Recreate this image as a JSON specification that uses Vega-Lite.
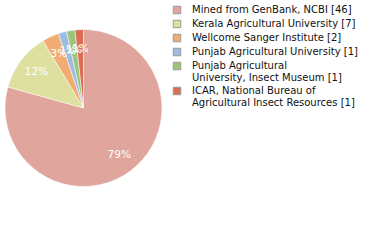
{
  "$schema": "https://vega.github.io/schema/vega-lite/v6.json",
  "width": 167,
  "height": 216,
  "padding": 0,
  "background": "white",
  "config": {"view": {"stroke": null}, "font": "DejaVu Sans"},
  "data": {
    "values": [
      {"name": "Mined from GenBank, NCBI [46]", "count": 46, "pct": "79%", "o": 1},
      {"name": "Kerala Agricultural University [7]", "count": 7, "pct": "12%", "o": 2},
      {"name": "Wellcome Sanger Institute [2]", "count": 2, "pct": "3%", "o": 3},
      {"name": "Punjab Agricultural University [1]", "count": 1, "pct": "1%", "o": 4},
      {"name": "Punjab Agricultural\nUniversity, Insect Museum [1]", "count": 1, "pct": "1%", "o": 5},
      {"name": "ICAR, National Bureau of\nAgricultural Insect Resources [1]", "count": 1, "pct": "1%", "o": 6}
    ]
  },
  "encoding": {
    "theta": {"field": "count", "type": "quantitative", "stack": true},
    "order": {"field": "o", "type": "quantitative"}
  },
  "layer": [
    {
      "mark": {"type": "arc", "outerRadius": 78.5, "stroke": "white", "strokeWidth": 0.5},
      "encoding": {
        "color": {
          "field": "name",
          "type": "nominal",
          "scale": {
            "domain": [
              "Mined from GenBank, NCBI [46]",
              "Kerala Agricultural University [7]",
              "Wellcome Sanger Institute [2]",
              "Punjab Agricultural University [1]",
              "Punjab Agricultural\nUniversity, Insect Museum [1]",
              "ICAR, National Bureau of\nAgricultural Insect Resources [1]"
            ],
            "range": ["#e0a59c", "#dde09f", "#f0ac72", "#9dbce0", "#9cc47a", "#dc6d55"]
          },
          "legend": {
            "title": null,
            "orient": "none",
            "legendX": 172,
            "legendY": 5,
            "symbolType": "square",
            "symbolSize": 56,
            "symbolStrokeColor": "#999999",
            "symbolStrokeWidth": 1,
            "labelFont": "DejaVu Sans",
            "labelFontSize": 10,
            "labelColor": "#111111",
            "labelLimit": 300,
            "labelExpr": "split(datum.label, '\\n')",
            "rowPadding": 2,
            "labelOffset": 10
          }
        }
      }
    },
    {
      "mark": {"type": "text", "radius": 59, "color": "white", "font": "DejaVu Sans", "fontSize": 10.5},
      "encoding": {"text": {"field": "pct"}}
    }
  ]
}
